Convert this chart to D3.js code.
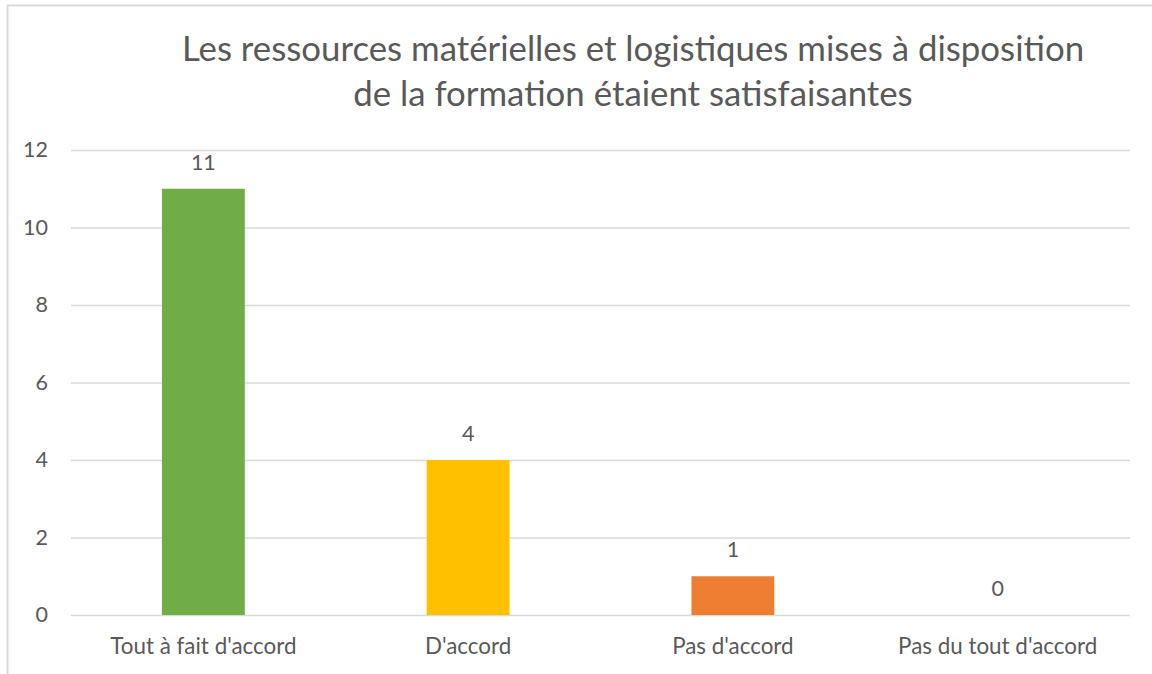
<!DOCTYPE html>
<html>
<head>
<meta charset="utf-8">
<script src="https://cdn.jsdelivr.net/npm/d3@7"></script>
<style>
    body { margin: 0; background: #fff; }
    text { font-family: Lato, "Open Sans", sans-serif; fill: #595959; }
</style>
</head>
<body>
<div id="chart"></div>
<script>
const categories = ["Tout à fait d'accord", "D'accord", "Pas d'accord", "Pas du tout d'accord"];
const values = [11, 4, 1, 0];
const barColors = ["#70AD47", "#FFC000", "#ED7D31", "#5B9BD5"];
const yTicks = [0, 2, 4, 6, 8, 10, 12];
const titleLines = [
    "Les ressources matérielles et logistiques mises à disposition",
    "de la formation étaient satisfaisantes"
];

const width = 1152;
const height = 674;
const margin = { top: 150, right: 22, bottom: 59, left: 71 };
const innerW = width - margin.left - margin.right;
const innerH = height - margin.top - margin.bottom;

const svg = d3.select("#chart")
    .append("svg")
    .attr("width", width)
    .attr("height", height);

// chart area border (cropped on the right and bottom)
svg.append("rect")
    .attr("x", 7.5)
    .attr("y", 5.5)
    .attr("width", 1200)
    .attr("height", 700)
    .attr("fill", "none")
    .attr("stroke", "#D9D9D9")
    .attr("stroke-width", 2);

svg.selectAll("text.title")
    .data(titleLines)
    .enter()
    .append("text")
    .attr("class", "title")
    .attr("x", 633)
    .attr("y", (d, i) => 61 + i * 45)
    .attr("text-anchor", "middle")
    .style("font-size", "34.8px")
    .text(d => d);

const g = svg.append("g")
    .attr("transform", `translate(${margin.left},${margin.top})`);

const xScale = d3.scaleBand()
    .domain(categories)
    .range([0, innerW])
    .paddingInner(0.687)
    .paddingOuter(0.3435);

const yScale = d3.scaleLinear()
    .domain([0, 12])
    .range([innerH, 0]);

const yAxis = g.append("g")
    .call(d3.axisLeft(yScale).tickValues(yTicks).tickSize(-innerW).tickPadding(23));
yAxis.select(".domain").remove();
yAxis.selectAll("line").attr("stroke", "#D9D9D9").attr("stroke-width", 1.3);
yAxis.selectAll("text").style("font-size", "21.5px").attr("fill", "#595959").style("font-family", "Lato");

const xAxis = g.append("g")
    .attr("transform", `translate(0,${innerH})`)
    .call(d3.axisBottom(xScale).tickSize(0).tickPadding(23.5));
xAxis.select(".domain").remove();
xAxis.selectAll("text").style("font-size", "22.4px").attr("fill", "#595959").style("font-family", "Lato");

g.selectAll("rect.bar")
    .data(values)
    .enter()
    .append("rect")
    .attr("class", "bar")
    .attr("x", (d, i) => xScale(categories[i]))
    .attr("y", d => yScale(d))
    .attr("width", xScale.bandwidth())
    .attr("height", d => innerH - yScale(d))
    .attr("fill", (d, i) => barColors[i]);

g.selectAll("text.label")
    .data(values)
    .enter()
    .append("text")
    .attr("class", "label")
    .attr("x", (d, i) => xScale(categories[i]) + xScale.bandwidth() / 2)
    .attr("y", d => yScale(d) - 19)
    .attr("text-anchor", "middle")
    .style("font-size", "21.5px")
    .text(d => d);
</script>
</body>
</html>
